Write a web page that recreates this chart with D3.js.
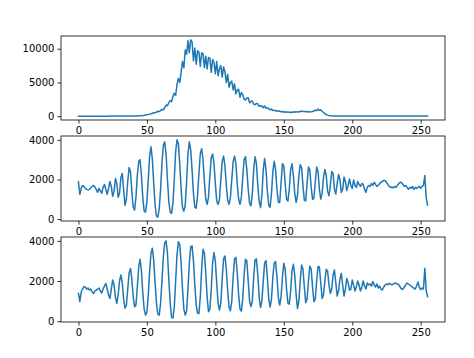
<!DOCTYPE html>
<html>
<head>
<meta charset="utf-8">
<script src="https://cdn.jsdelivr.net/npm/d3@7"></script>
<style>
html,body{margin:0;padding:0;background:#fff;}
svg{display:block;}
text{font-family:"DejaVu Sans",sans-serif;}
</style>
</head>
<body>
<svg id="chart" width="474" height="358"></svg>
<script>
// Bin index 0..255 for each histogram
const bins = d3.range(256);

const histTop = [
3,4,5,4,6,5,6,7,6,7,8,7,8,9,8,9,10,9,10,11,10,11,12,11,12,13,12,13,14,15,
14,15,16,15,16,17,16,18,17,19,20,25,30,40,50,
65,85,110,140,175,215,260,310,370,440,520,500,620,700,680,850,1000,950,1250,
1650,1550,2000,2300,2150,2900,3400,3100,4700,5600,5000,6500,8100,7200,9800,9200,
11200,9400,11320,11000,8200,10100,7700,9700,9500,7400,9400,9200,7200,8900,7000,8700,8600,6500,8400,8000,
6300,8100,6000,7000,7500,5800,7300,6600,5000,6200,4300,5000,5200,3900,4800,3300,3900,4000,2800,3500,
3200,2500,2400,2700,2750,2000,2200,2250,1800,1700,1900,1850,1450,1550,1500,1250,1500,1150,1250,1100,
950,1050,850,900,780,820,700,760,650,700,600,650,580,640,600,560,620,580,650,600,
680,620,700,760,680,720,650,700,620,680,640,700,760,900,820,1050,880,950,700,550,
380,250,160,100,70,50,40,35,32,30,28,30,27,29,26,28,25,27,26,24,
26,25,23,25,24,22,24,23,25,22,24,21,23,22,20,22,21,23,20,22,
21,20,22,19,21,20,22,19,20,21,19,20,18,20,19,21,18,20,19,18,
19,18,20,17,19,18,17,19,18,17,18,16,18,17,16,17
];

const histMid = [
1880,1250,1550,1700,1650,1550,1500,1480,1500,1580,1650,1700,1620,1500,1350,1550,1420,1300,1600,1750,
1500,1250,1550,1900,1650,1150,1400,2050,1800,1100,1300,2100,2300,1500,700,1000,1900,2600,2400,1400,
600,450,1100,2200,2900,3000,2200,1100,400,350,900,2000,3200,3650,3000,1800,700,150,100,500,
1500,2800,3700,3900,3300,2000,900,350,280,800,2000,3400,4000,3800,2800,1500,600,400,700,1900,
3300,3900,3500,2500,1300,600,550,1200,2300,3300,3550,3000,1900,1000,750,1100,2200,3100,3280,2800,
1800,900,740,1000,2000,2900,3180,2700,1700,950,750,1100,2000,2900,3180,2800,1800,1000,750,1100,
2100,3000,3150,2500,1500,800,670,1300,2500,3150,2800,1700,900,580,1200,2500,3060,2500,1400,700,
600,1300,2400,2920,2500,1500,850,840,1800,2800,2700,1800,1000,920,1500,2500,2800,2200,1300,850,
1200,2200,2750,2600,1700,950,920,1800,2630,2500,1600,1000,1050,1900,2630,2400,1500,1010,1300,2100,
2510,2200,1400,1180,1700,2400,2300,1500,1270,1800,2260,2000,1350,1500,2120,1900,1440,1700,2030,1690,
1550,1980,1700,1600,1900,1750,1650,1800,1750,1500,1350,1600,1700,1650,1800,1700,1860,1750,1650,1700,
1800,1850,1900,1950,1950,1850,1750,1650,1600,1620,1580,1650,1600,1700,1800,1860,1850,1750,1650,1700,
1600,1500,1600,1550,1650,1500,1600,1550,1600,1650,1550,1650,1700,2200,1100,700
];

const histBottom = [
1380,970,1450,1600,1720,1700,1600,1650,1550,1600,1450,1380,1500,1550,1600,1650,1500,1400,1600,1750,
1880,1600,1300,1130,1600,2050,1800,1200,880,1300,2000,2300,1900,1100,650,800,1600,2400,2630,2100,
1200,720,800,1700,2700,3080,2500,1400,600,300,450,1300,2500,3400,3630,3000,1900,900,350,300,
900,2000,3200,3900,4000,3400,2100,900,200,150,700,2000,3300,3960,3800,2900,1600,600,300,500,
1600,2900,3700,3750,3000,1800,800,400,380,1200,2600,3580,3400,2400,1200,470,600,1600,2900,3420,
3000,1900,900,550,900,2100,3100,3250,2600,1500,700,520,1000,2200,3100,3180,2400,1300,600,500,
1100,2300,3080,3000,2000,1000,720,1000,2200,3050,3100,2300,1200,680,1000,2000,2900,3020,2200,1100,
700,1100,2200,2900,2970,2200,1200,800,1200,2200,2880,2600,1600,900,850,1500,2500,2830,2300,1300,
630,1000,2000,2800,2600,1700,920,1100,2000,2750,2600,1700,970,1100,2000,2720,2700,1900,1130,1300,
2000,2580,2500,1800,1380,1600,2300,2550,1900,1250,1500,2100,2380,1800,1250,1600,2130,1900,1550,1600,
2050,1800,1500,1700,2000,1800,1500,1700,2000,1750,1600,1900,1800,1850,1750,1970,1800,1700,1850,1650,
1750,1600,1550,1700,1800,1850,1820,1880,1850,1800,1850,1900,1880,1850,1820,1700,1600,1580,1700,1800,
1900,1850,1800,1750,1700,1650,1600,1750,1950,1700,1570,1650,1600,2630,1550,1220
];

const xTicks = [0, 50, 100, 150, 200, 250];
const yTicksTop = [0, 5000, 10000];
const yTicksLower = [0, 2000, 4000];

const panels = [
  {values: histTop, ticks: yTicksTop, top: 36, height: 84},
  {values: histMid, ticks: yTicksLower, top: 136, height: 85},
  {values: histBottom, ticks: yTicksLower, top: 237, height: 85}
];

const svg = d3.select("#chart");
svg.append("rect").attr("width",474).attr("height",358).attr("fill","#fff");

const left = 61, right = 445;

function padded(ext){
  const r = ext[1]-ext[0];
  return [ext[0]-0.05*r, ext[1]+0.05*r];
}

const x = d3.scaleLinear().domain(padded([0,255])).range([left, right]);

panels.forEach(p => {
  const y = d3.scaleLinear().domain(padded(d3.extent(p.values))).range([p.top + p.height, p.top]);
  const g = svg.append("g");

  const line = d3.line().x((d,i)=>x(bins[i])).y(d=>y(d));
  g.append("path").datum(p.values)
    .attr("d", line)
    .attr("fill","none")
    .attr("stroke","#1f77b4")
    .attr("stroke-width",1.5)
    .attr("stroke-linejoin","round")
    .attr("stroke-linecap","square");

  const xa = g.append("g").attr("transform",`translate(0,${p.top+p.height})`)
    .call(d3.axisBottom(x).tickValues(xTicks).tickSize(3.6).tickPadding(3).tickFormat(d3.format("d")));
  const ya = g.append("g").attr("transform",`translate(${left},0)`)
    .call(d3.axisLeft(y).tickValues(p.ticks).tickSize(3.6).tickPadding(3).tickFormat(d3.format("d")));
  [xa, ya].forEach(a => {
    a.select(".domain").remove();
    a.selectAll("line").attr("stroke","#000").attr("stroke-width",0.8);
    a.selectAll("text").attr("font-size","10px").attr("fill","#000")
      .attr("font-family","DejaVu Sans, sans-serif");
  });

  g.append("rect")
    .attr("x", left).attr("y", p.top)
    .attr("width", right-left).attr("height", p.height)
    .attr("fill","none").attr("stroke","#000").attr("stroke-width",0.8);
});
</script>
</body>
</html>
